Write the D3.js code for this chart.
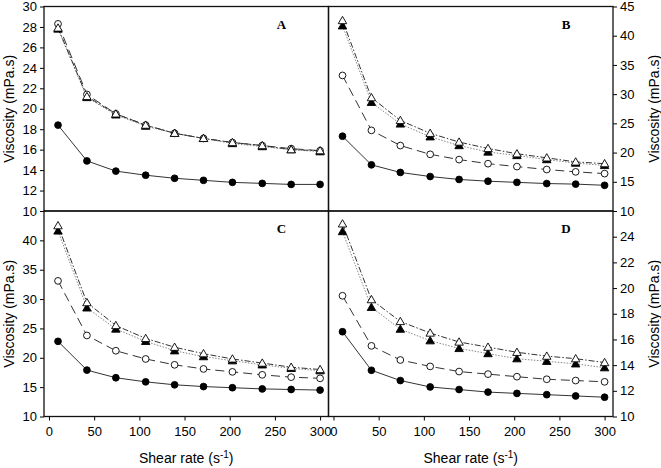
<!DOCTYPE html>
<html><head><meta charset="utf-8">
<script src="https://cdn.jsdelivr.net/npm/d3@7"></script>
<style>
body{margin:0;background:#fff;}
svg{display:block;}
.tick text{font-family:"Liberation Sans",Arial,sans-serif;font-size:13px;fill:#000;}
</style></head>
<body><svg id="chart" width="661" height="468"></svg>
<script>
// ---- data ----
const shearRate = [10, 42, 74, 107, 139, 171, 203, 236, 268, 300];
const xTicks = [0, 50, 100, 150, 200, 250, 300];

const panelNames = ["A", "B", "C", "D"];

const A_filledCircle = [18.4, 14.9, 13.9, 13.5, 13.2, 13.0, 12.8, 12.7, 12.6, 12.6];
const A_openCircle   = [28.3, 21.4, 19.5, 18.4, 17.6, 17.1, 16.7, 16.4, 16.1, 15.9];
const A_filledTri    = [27.8, 21.1, 19.4, 18.3, 17.6, 17.1, 16.6, 16.3, 16.0, 15.8];
const A_openTri      = [27.9, 21.2, 19.5, 18.4, 17.6, 17.1, 16.7, 16.4, 16.0, 15.9];

const B_filledCircle = [22.8, 17.9, 16.6, 15.9, 15.4, 15.1, 14.9, 14.7, 14.6, 14.4];
const B_openCircle   = [33.2, 23.8, 21.2, 19.7, 18.8, 18.1, 17.6, 17.1, 16.7, 16.4];
const B_filledTri    = [41.7, 28.6, 24.9, 22.7, 21.2, 20.1, 19.5, 18.8, 18.2, 17.8];
const B_openTri      = [42.6, 29.4, 25.5, 23.3, 21.8, 20.7, 19.8, 19.1, 18.4, 18.1];

const C_filledCircle = [22.8, 17.9, 16.6, 15.9, 15.4, 15.1, 14.9, 14.7, 14.6, 14.5];
const C_openCircle   = [33.1, 23.8, 21.2, 19.8, 18.8, 18.1, 17.6, 17.1, 16.7, 16.5];
const C_filledTri    = [41.6, 28.5, 24.9, 22.8, 21.2, 20.2, 19.5, 18.8, 18.2, 17.8];
const C_openTri      = [42.5, 29.4, 25.5, 23.3, 21.8, 20.7, 19.8, 19.1, 18.4, 18.0];

const D_filledCircle = [16.6, 13.6, 12.8, 12.3, 12.1, 11.9, 11.8, 11.7, 11.6, 11.5];
const D_openCircle   = [19.4, 15.5, 14.4, 13.9, 13.5, 13.3, 13.1, 12.9, 12.8, 12.7];
const D_filledTri    = [24.4, 18.5, 16.8, 15.9, 15.3, 14.9, 14.5, 14.3, 14.1, 13.8];
const D_openTri      = [25.0, 19.1, 17.4, 16.5, 15.8, 15.4, 15.0, 14.7, 14.5, 14.2];

const yDomains = { A: [10, 30], B: [10, 45], C: [10, 45], D: [10, 26] };
const yTicks = {
  A: [10, 12, 14, 16, 18, 20, 22, 24, 26, 28, 30],
  B: [10, 15, 20, 25, 30, 35, 40, 45],
  C: [10, 15, 20, 25, 30, 35, 40],
  D: [10, 12, 14, 16, 18, 20, 22, 24]
};
const seriesByPanel = {
  A: [A_filledCircle, A_openCircle, A_filledTri, A_openTri],
  B: [B_filledCircle, B_openCircle, B_filledTri, B_openTri],
  C: [C_filledCircle, C_openCircle, C_filledTri, C_openTri],
  D: [D_filledCircle, D_openCircle, D_filledTri, D_openTri]
};

// ---- layout ----
const X0 = 44, XM = 328.5, X1 = 613;
const Y0 = 6.5, YM = 211, Y1 = 416.5;
const boxes = {
  A: { x0: X0, x1: XM, y0: Y0, y1: YM, side: "left", bottom: false },
  B: { x0: XM, x1: X1, y0: Y0, y1: YM, side: "right", bottom: false },
  C: { x0: X0, x1: XM, y0: YM, y1: Y1, side: "left", bottom: true },
  D: { x0: XM, x1: X1, y0: YM, y1: Y1, side: "right", bottom: true }
};
const xDomain = [-5.5, 309.3];

const styles = [
  { shape: "circle", fill: "#000", dash: null, stroke: "#333" },
  { shape: "circle", fill: "#fff", dash: "9,5", stroke: "#333" },
  { shape: "triangle", fill: "#000", dash: "1.5,1.5", stroke: "#888" },
  { shape: "triangle", fill: "#fff", dash: "6,2,1.5,2", stroke: "#333" }
];

const svg = d3.select("#chart");
const font = '"Liberation Sans", Arial, sans-serif';

panelNames.forEach(p => {
  const b = boxes[p];
  const x = d3.scaleLinear().domain(xDomain).range([b.x0, b.x1]);
  const y = d3.scaleLinear().domain(yDomains[p]).range([b.y1, b.y0]);
  const g = svg.append("g");

  // y axis
  const yAxis = (b.side === "left" ? d3.axisLeft(y) : d3.axisRight(y))
    .tickValues(yTicks[p]).tickSize(4).tickPadding(3).tickFormat(d3.format("d"));
  const ya = g.append("g")
    .attr("transform", `translate(${b.side === "left" ? b.x0 : b.x1},0)`)
    .call(yAxis);
  ya.select(".domain").remove();
  ya.selectAll(".tick line").attr("stroke", "#000");

  if (b.bottom) {
    const xa = g.append("g").attr("transform", `translate(0,${b.y1})`)
      .call(d3.axisBottom(x).tickValues(xTicks).tickSize(4).tickPadding(6));
    xa.select(".domain").remove();
    xa.selectAll(".tick line").attr("stroke", "#000");
  }

  // box
  g.append("rect").attr("x", b.x0).attr("y", b.y0)
    .attr("width", b.x1 - b.x0).attr("height", b.y1 - b.y0)
    .attr("fill", "none").attr("stroke", "#111").attr("stroke-width", 1.3);

  // series
  const line = d3.line().x((d, i) => x(shearRate[i])).y(d => y(d));
  seriesByPanel[p].forEach((vals, si) => {
    const st = styles[si];
    g.append("path").datum(vals).attr("d", line)
      .attr("fill", "none").attr("stroke", st.stroke).attr("stroke-width", 1)
      .attr("stroke-dasharray", st.dash);
  });
  seriesByPanel[p].forEach((vals, si) => {
    const st = styles[si];
    const sym = d3.symbol().type(st.shape === "circle" ? d3.symbolCircle : d3.symbolTriangle)
      .size(st.shape === "circle" ? 36 : 31);
    g.selectAll(null).data(vals).enter().append("path")
      .attr("d", sym)
      .attr("transform", (d, i) => `translate(${x(shearRate[i])},${y(d) + (st.shape === "triangle" ? 0.7 : 0)})`)
      .attr("fill", st.fill).attr("stroke", "#000").attr("stroke-width", 0.9);
  });

  // panel letter
  g.append("text").attr("x", b.x1 - 47).attr("y", b.y0 + 22)
    .attr("font-family", '"Liberation Serif","Times New Roman",serif')
    .attr("font-weight", "bold").attr("font-size", 13).attr("text-anchor", "middle")
    .text(p);

  // y title
  const yc = (b.y0 + b.y1) / 2;
  const tx = b.side === "left" ? 9 : 654;
  svg.append("text")
    .attr("transform", `translate(${tx},${yc}) rotate(-90)`)
    .attr("text-anchor", "middle").attr("dominant-baseline", "central")
    .attr("font-family", font).attr("font-size", 14)
    .text("Viscosity (mPa.s)");

  if (b.bottom) {
    const t = svg.append("text").attr("x", (b.x0 + b.x1) / 2).attr("y", 463)
      .attr("text-anchor", "middle").attr("font-family", font).attr("font-size", 14);
    t.append("tspan").text("Shear rate (s");
    t.append("tspan").attr("dy", -5).attr("font-size", 10).text("-1");
    t.append("tspan").attr("dy", 5).text(")");
  }
});
</script></body></html>
